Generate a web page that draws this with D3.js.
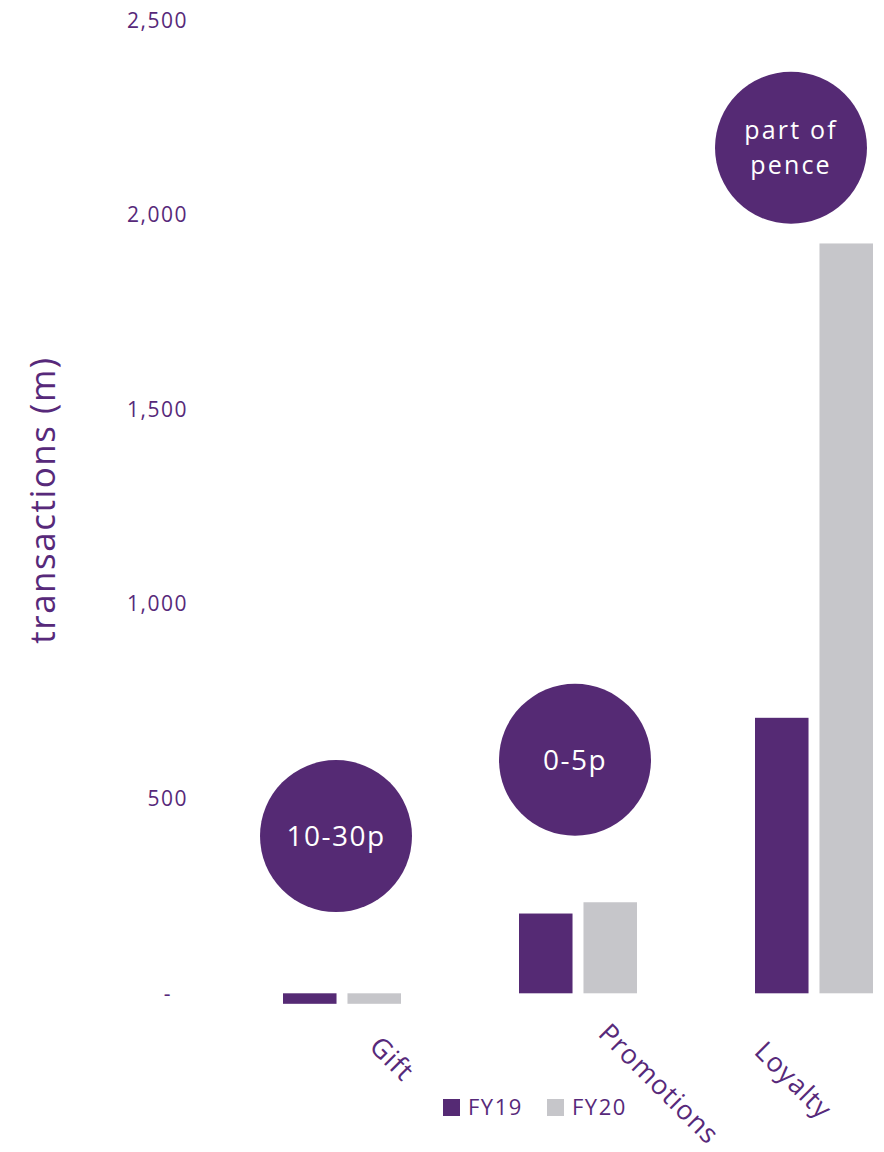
<!DOCTYPE html>
<html>
<head>
<meta charset="utf-8">
<script src="https://cdn.jsdelivr.net/npm/d3@7"></script>
<style>
  body { margin: 0; background: #fff; }
  svg text { font-family: "Open Sans", "Noto Sans", sans-serif; font-weight: 400; fill: #57297a; }
</style>
</head>
<body>
<script>
(function(){
	var categories = ["Gift", "Promotions", "Loyalty"];
	var seriesNames = ["FY19", "FY20"];
	var fy19 = [-27, 205, 708];
	var fy20 = [-27, 234, 1927];
	var yTicks = [0, 500, 1000, 1500, 2000, 2500];
	// bubble captions and the value they sit at
	var bubbleText = [["10-30p"], ["0-5p"], ["part of", "pence"]];
	var bubbleValue = [404, 600, 2173];

	var width = 884,
		height = 1152;

	var purple = "#552a74",
		grey = "#c6c6ca";

	var svg = d3.select("body")
		.append("svg")
		.attr("width", width)
		.attr("height", height);

	var y = d3.scaleLinear()
		.domain([0, 2500])
		.range([993.3, 20.5]);

	var x0 = d3.scaleBand()
		.domain(categories)
		.range([224, 932])
		.paddingInner(0.5)
		.paddingOuter(0.25);

	var x1 = d3.scaleBand()
		.domain(seriesNames)
		.range([0, x0.bandwidth()])
		.paddingInner(0.17);

	var colour = d3.scaleOrdinal()
		.domain(seriesNames)
		.range([purple, grey]);

	//y axis, labels only
	var yAxis = svg.append("g")
		.attr("transform", "translate(188,0)")
		.call(d3.axisLeft(y)
			.tickValues(yTicks)
			.tickSize(0)
			.tickPadding(0)
			.tickFormat(function(d){ return d === 0 ? "-" : d3.format(",")(d); }));
	yAxis.select(".domain").remove();
	yAxis.selectAll("text")
		.style("font-size", "21px")
		.style("letter-spacing", "1.5px")
		.attr("fill", null)
		.attr("x", function(d){ return d === 0 ? -16 : 0; });

	svg.append("text")
		.attr("transform", "translate(55,500) rotate(-90)")
		.attr("text-anchor", "middle")
		.style("font-size", "35px")
		.style("letter-spacing", "1.5px")
		.text("transactions (m)");

	var rows = categories.map(function(c, i){
		return {cat: c, values: [{s: "FY19", v: fy19[i]}, {s: "FY20", v: fy20[i]}]};
	});

	var groups = svg.selectAll(".group")
		.data(rows)
		.enter()
		.append("g")
		.attr("class", "group")
		.attr("transform", function(d){ return "translate(" + x0(d.cat) + ",0)"; });

	groups.selectAll("rect")
		.data(function(d){ return d.values; })
		.enter()
		.append("rect")
		.attr("x", function(d){ return x1(d.s); })
		.attr("y", function(d){ return y(Math.max(0, d.v)); })
		.attr("width", x1.bandwidth())
		.attr("height", function(d){ return Math.abs(y(d.v) - y(0)); })
		.attr("fill", function(d){ return colour(d.s); });

	//price bubbles
	var bubbleNudge = {Gift: -6, Promotions: -3, Loyalty: -23};
	var bubbles = svg.selectAll(".bubble")
		.data(categories)
		.enter()
		.append("g")
		.attr("class", "bubble")
		.attr("transform", function(d, i){
			var cx = x0(d) + x0.bandwidth() / 2 + bubbleNudge[d];
			return "translate(" + cx + "," + y(bubbleValue[i]) + ")";
		});
	bubbles.append("circle")
		.attr("r", 76)
		.attr("fill", purple);
	bubbles.each(function(d, i){
		var lines = bubbleText[i];
		var two = lines.length > 1;
		d3.select(this).selectAll("text")
			.data(lines)
			.enter()
			.append("text")
			.attr("text-anchor", "middle")
			.attr("y", function(t, j){ return (j - (lines.length - 1) / 2) * 34.5 + (two ? 9 : 10); })
			.style("font-size", two ? "25px" : "28px")
			.style("letter-spacing", two ? "2.2px" : "1.5px")
			.style("fill", "#fff")
			.text(function(t){ return t; });
	});

	//category labels at 45 degrees
	var labelNudge = {Gift: [26, 1048], Promotions: [19, 1035], Loyalty: [-61, 1053]};
	svg.selectAll(".cat")
		.data(categories)
		.enter()
		.append("text")
		.attr("class", "cat")
		.attr("transform", function(d){
			var lx = x0(d) + x0.bandwidth() / 2 + labelNudge[d][0];
			return "translate(" + lx + "," + labelNudge[d][1] + ") rotate(45)";
		})
		.style("font-size", "27px")
		.style("letter-spacing", "1px")
		.text(function(d){ return d; });

	//legend
	var legend = svg.selectAll(".legend")
		.data(seriesNames)
		.enter()
		.append("g")
		.attr("class", "legend")
		.attr("transform", function(d, i){ return "translate(" + (443 + i * 104) + ",1099)"; });
	legend.append("rect")
		.attr("width", 17)
		.attr("height", 17)
		.attr("fill", function(d){ return colour(d); });
	legend.append("text")
		.attr("x", 25)
		.attr("y", 16)
		.style("font-size", "22px")
		.style("letter-spacing", "1.5px")
		.text(function(d){ return d; });
})();
</script>
</body>
</html>
